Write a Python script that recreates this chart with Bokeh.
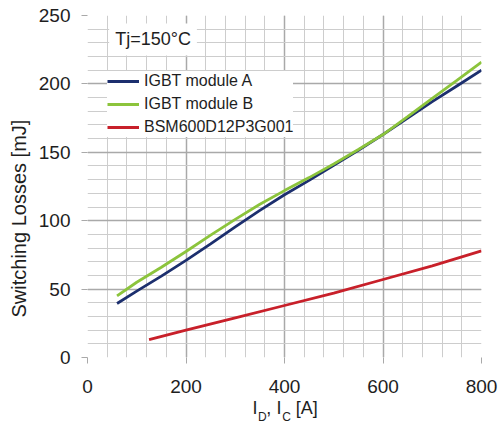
from bokeh.plotting import figure
from bokeh.models import Label, Range1d, SingleIntervalTicker, FixedTicker, LinearAxis, Title
from bokeh.embed import file_html
from bokeh.resources import INLINE

# ---- data ----
current_a = [60, 100, 150, 200, 250, 300, 350, 400, 450, 500, 550, 600, 650, 700, 750, 800]
igbt_a = [39.5, 48.5, 59.5, 71, 83, 95.5, 107.5, 119, 129.5, 140.5, 151.5, 163, 175, 187, 198.5, 210]

current_b = [60, 100, 150, 200, 250, 300, 350, 400, 450, 500, 550, 600, 650, 700, 750, 800]
igbt_b = [45, 55, 66, 77.5, 89.5, 101, 112, 122, 131.5, 141.5, 152, 163, 176, 189.5, 202.5, 216]

current_sic = [125, 200, 300, 400, 500, 600, 700, 800]
sic = [13, 20, 29, 38, 47, 57, 67, 78]

names = ["IGBT module A", "IGBT module B", "BSM600D12P3G001"]
colors = ["#1c2f6e", "#8cc43c", "#c8202a"]

FONT = "Liberation Sans"
GRID_MAJOR = "#a9a9a9"
GRID_MINOR = "#cdcdcd"
TEXT = "#1e1e1e"

p = figure(width=499, height=432, output_backend="svg", toolbar_location=None,
           x_range=Range1d(0, 800), y_range=Range1d(0, 250),
           min_border_left=87, min_border_right=18, min_border_top=15, min_border_bottom=75)
p.outline_line_color = None
p.background_fill_color = "white"

p.xaxis.ticker = SingleIntervalTicker(interval=200, num_minor_ticks=5)
p.yaxis.ticker = SingleIntervalTicker(interval=50, num_minor_ticks=5)

for ax in (p.xaxis, p.yaxis):
    ax.axis_line_color = None
    ax.major_tick_line_color = GRID_MAJOR
    ax.major_tick_out = 6
    ax.major_tick_in = 0
    ax.minor_tick_line_color = None
    ax.major_label_text_font = FONT
    ax.major_label_text_font_size = "19px"
    ax.major_label_text_color = TEXT
p.xaxis.major_label_standoff = 16
p.yaxis.major_label_standoff = 11

for g in (p.xgrid, p.ygrid):
    g.grid_line_color = GRID_MAJOR
    g.grid_line_width = 1.5
    g.minor_grid_line_color = GRID_MINOR
    g.minor_grid_line_width = 1

p.line(current_a, igbt_a, line_color=colors[0], line_width=2.8, legend_label=names[0])
p.line(current_b, igbt_b, line_color=colors[1], line_width=2.8, legend_label=names[1])
p.line(current_sic, sic, line_color=colors[2], line_width=2.8, legend_label=names[2])

lg = p.legend[0]
lg.location = (20, 220)
lg.border_line_color = None
lg.background_fill_color = "white"
lg.background_fill_alpha = 1
lg.padding = 9
lg.spacing = 3
lg.glyph_width = 32
lg.glyph_height = 20
lg.label_height = 20
lg.label_standoff = 5
lg.label_text_font = FONT
lg.label_text_font_size = "16px"
lg.label_text_color = TEXT
lg.margin = 0

# temperature note
p.add_layout(Label(x=44, y=232.5, text="Tj=150°C", text_font=FONT, text_font_size="18px",
                   text_color=TEXT, text_baseline="middle", text_align="left",
                   background_fill_color="white", padding=6))

# y axis title (as a side title so it can sit where the reference has it)
ytitle = Title(text="Switching Losses [mJ]", align="left", offset=40, standoff=11,
               text_font=FONT, text_font_size="20px", text_font_style="normal",
               text_color=TEXT)
p.add_layout(ytitle, "left")

# x axis title "I_D, I_C [A]" built from two text rows (main letters and subscripts)
title_main = {340: "I", 368: ",", 389: "I", 445: "[A]"}
title_sub = {355: "D", 404: "C"}

ax_main = LinearAxis(ticker=FixedTicker(ticks=list(title_main)), major_label_overrides=title_main)
ax_sub = LinearAxis(ticker=FixedTicker(ticks=list(title_sub)), major_label_overrides=title_sub)
for ax, size, standoff in ((ax_main, "18px", 2), (ax_sub, "12px", -11)):
    ax.axis_line_color = None
    ax.major_tick_line_color = None
    ax.minor_tick_line_color = None
    ax.major_tick_out = 0
    ax.major_tick_in = 0
    ax.major_label_standoff = standoff
    ax.major_label_text_font = FONT
    ax.major_label_text_font_size = size
    ax.major_label_text_color = TEXT
    p.add_layout(ax, "below")

open("out.html", "w").write(file_html(p, INLINE))
